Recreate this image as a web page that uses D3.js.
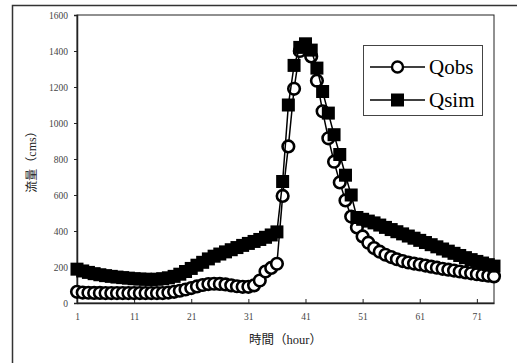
<!DOCTYPE html>
<html>
<head>
<meta charset="utf-8">
<script src="https://cdn.jsdelivr.net/npm/d3@7"></script>
<style>
  body { margin: 0; background: #fff; }
  svg { display: block; }
  svg text { font-family: "Liberation Serif", "DejaVu Serif", serif !important; }
  svg text.cjk { font-family: "Liberation Serif", "Noto Sans CJK TC", serif !important; }
</style>
</head>
<body>
<div id="chart"></div>
<script>
// hours 1..74
const hours = d3.range(1, 75);

const qobs = [
  62, 58, 57, 56, 56, 55, 55, 55, 55, 55,
  55, 55, 55, 55, 55, 55, 58, 62, 68, 75,
  83, 92, 100, 105, 107, 106, 103, 98, 93, 90,
  90, 98, 125, 175, 195, 218, 595, 870, 1190, 1400,
  1425, 1370, 1235, 1065, 915, 785, 670, 570, 480, 420,
  370, 335, 305, 285, 268, 255, 243, 233, 225, 219,
  214, 208, 202, 196, 190, 185, 180, 175, 170, 165,
  160, 156, 152, 148
];

const qsim = [
  188, 178, 170, 163, 157, 152, 148, 144, 141, 138,
  135, 133, 132, 131, 132, 135, 140, 148, 160, 175,
  192, 210, 226, 245, 260, 272, 284, 296, 308, 320,
  331, 342, 353, 365, 378, 395, 675, 1100, 1320, 1420,
  1440, 1405, 1305, 1175, 1055, 935, 825, 710, 600, 475,
  465, 455, 445, 433, 420, 408, 396, 384, 372, 360,
  348, 336, 324, 312, 300, 288, 276, 264, 252, 241,
  231, 222, 213, 205
];

const yTicks = [0, 200, 400, 600, 800, 1000, 1200, 1400, 1600];
const xTicks = [1, 11, 21, 31, 41, 51, 61, 71];

const W = 517, H = 363;
const plotL = 77, plotR = 494, plotT = 15, plotB = 303;

const svg = d3.select("#chart").append("svg")
  .attr("width", W)
  .attr("height", H);

// outer chart frame (runs past the picture edge)
svg.append("rect")
  .attr("x", 12.5).attr("y", 5.5)
  .attr("width", 520).attr("height", 380)
  .attr("fill", "none")
  .attr("stroke", "#333")
  .attr("stroke-width", 1.5);

const x = d3.scaleLinear().domain([1, 74]).range([plotL, plotR]);
const y = d3.scaleLinear().domain([0, 1600]).range([plotB, plotT]);

// plot area border
svg.append("rect")
  .attr("x", plotL).attr("y", plotT)
  .attr("width", plotR - plotL).attr("height", plotB - plotT)
  .attr("fill", "none")
  .attr("stroke", "#222")
  .attr("stroke-width", 1);

// y axis
const yAxis = svg.append("g")
  .attr("transform", `translate(${plotL},0)`)
  .call(d3.axisLeft(y).tickValues(yTicks).tickFormat(d3.format("d")).tickSize(3).tickPadding(6));
yAxis.select(".domain").attr("stroke", "#222").attr("stroke-width", 1.5);
yAxis.selectAll(".tick line").attr("stroke", "#222");
yAxis.selectAll(".tick text")
  .attr("font-size", 9.5)
  .attr("fill", "#444");

// x axis, ticks pointing inward
const xAxis = svg.append("g")
  .attr("transform", `translate(0,${plotB})`)
  .call(d3.axisBottom(x).tickValues(xTicks).tickFormat(d3.format("d")).tickSizeInner(-4).tickSizeOuter(0).tickPadding(10));
xAxis.select(".domain").attr("stroke", "#222").attr("stroke-width", 1.5);
xAxis.selectAll(".tick line").attr("stroke", "#222");
xAxis.selectAll(".tick text")
  .attr("font-size", 9.5)
  .attr("fill", "#444");

// axis titles
svg.append("text")
  .attr("class", "cjk")
  .attr("transform", `translate(36,${(plotT + plotB) / 2}) rotate(-90)`)
  .attr("text-anchor", "middle")
  .attr("font-size", 12)
  .attr("fill", "#222")
  .text("流量（cms）");

svg.append("text")
  .attr("class", "cjk")
  .attr("x", (plotL + plotR) / 2)
  .attr("y", 344)
  .attr("text-anchor", "middle")
  .attr("font-size", 12.5)
  .attr("fill", "#222")
  .text("時間（hour）");

const line = d3.line()
  .x(d => x(d[0]))
  .y(d => y(d[1]));

const obsData = hours.map((h, i) => [h, qobs[i]]);
const simData = hours.map((h, i) => [h, qsim[i]]);

// Qobs
svg.append("path")
  .datum(obsData)
  .attr("d", line)
  .attr("fill", "none")
  .attr("stroke", "#000")
  .attr("stroke-width", 1.5);

svg.append("g")
  .selectAll("circle")
  .data(obsData)
  .enter().append("circle")
  .attr("cx", d => x(d[0]))
  .attr("cy", d => y(d[1]))
  .attr("r", 5.8)
  .attr("fill", "#fff")
  .attr("stroke", "#000")
  .attr("stroke-width", 2.6);

// Qsim
svg.append("path")
  .datum(simData)
  .attr("d", line)
  .attr("fill", "none")
  .attr("stroke", "#000")
  .attr("stroke-width", 1.5);

const sq = 13;
svg.append("g")
  .selectAll("rect")
  .data(simData)
  .enter().append("rect")
  .attr("x", d => x(d[0]) - sq / 2)
  .attr("y", d => y(d[1]) - sq / 2)
  .attr("width", sq)
  .attr("height", sq)
  .attr("fill", "#000");

// legend
const legend = svg.append("g");
legend.append("rect")
  .attr("x", 363.5).attr("y", 45.5)
  .attr("width", 119).attr("height", 70)
  .attr("fill", "#fff")
  .attr("stroke", "#444")
  .attr("stroke-width", 1);

const entries = [
  { name: "Qobs", cy: 67, type: "circle" },
  { name: "Qsim", cy: 100, type: "square" }
];
entries.forEach(e => {
  legend.append("line")
    .attr("x1", 370).attr("x2", 425)
    .attr("y1", e.cy).attr("y2", e.cy)
    .attr("stroke", "#000")
    .attr("stroke-width", 1.5);
  if (e.type === "circle") {
    legend.append("circle")
      .attr("cx", 397.5).attr("cy", e.cy).attr("r", 5.5)
      .attr("fill", "#fff").attr("stroke", "#000").attr("stroke-width", 2.4);
  } else {
    legend.append("rect")
      .attr("x", 397.5 - 6.5).attr("y", e.cy - 6.5)
      .attr("width", 13).attr("height", 13)
      .attr("fill", "#000");
  }
  legend.append("text")
    .attr("x", 429)
    .attr("y", e.cy + 7)
    .attr("font-size", 21)
    .attr("fill", "#000")
    .text(e.name);
});
</script>
</body>
</html>
